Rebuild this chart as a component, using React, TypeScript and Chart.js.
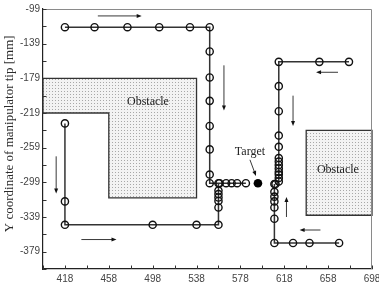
import { useEffect, useRef } from 'react';
import { Chart, registerables } from 'chart.js';
Chart.register(...registerables);

// ---- data ----
const xTickValues = [398, 418, 438, 458, 478, 498, 518, 538, 558, 578, 598, 618, 638, 658, 678, 698];
const xLabelValues = [418, 458, 498, 538, 578, 618, 658, 698];
const yTickValues = [-399, -379, -359, -339, -319, -299, -279, -259, -239, -219, -199, -179, -159, -139, -119, -99];
const yLabelValues = [-379, -339, -299, -259, -219, -179, -139, -99];

const pathAX = [418, 418, 418, 498, 538, 558, 558, 558, 558, 558, 558, 558];
const pathAY = [-231, -321, -348, -348, -348, -348, -328, -320.5, -316.5, -312.5, -308.5, -300];

const pathBX = [418, 445, 475, 504, 532, 550, 550, 550, 550, 550, 550, 550, 550, 559, 565, 570, 575, 583];
const pathBY = [-120, -120, -120, -120, -120, -120, -148, -178, -205, -234, -261, -290, -300, -300, -300, -300, -300, -300];

const pathCX = [677, 650, 613, 613, 613, 613, 613, 613, 613, 613, 613, 613, 613, 613, 613, 610];
const pathCY = [-160, -160, -160, -188, -217, -245, -258, -271, -275, -279, -283, -287, -290, -294, -298, -301];

const pathDX = [668, 641, 626, 609, 609, 609, 609, 609, 609, 609];
const pathDY = [-369, -369, -369, -369, -341, -328, -321, -315.5, -310, -301];

const targetX = [594];
const targetY = [-300];

const obstacle1X = [398, 538, 538, 458, 458, 398];
const obstacle1Y = [-179, -179, -317, -317, -219, -219];
const obstacle2X = [638, 698, 698, 638];
const obstacle2Y = [-239, -239, -337, -337];

// direction arrows: [x1, y1, x2, y2]
const directionArrows = [
  [448, -107, 488, -107],
  [563, -164, 563, -216],
  [667, -172, 647, -172],
  [626, -199, 626, -234],
  [410, -269, 410, -312],
  [433, -365, 465, -365],
  [620, -339, 620, -316],
  [651, -354, 632, -354],
  [586.7, -273, 592.2, -291.6],
];

const textLabels = [
  { text: 'Obstacle', x: 493.7, y: -206.3 },
  { text: 'Obstacle', x: 666.9, y: -284.7 },
  { text: 'Target', x: 586.7, y: -264.3 },
];

const yTitle = 'Y coordinate of manipulator tip [mm]';
const yTitleCenterValue = -243;

const toPoints = (xs: number[], ys: number[]) => xs.map((x, i) => ({ x, y: ys[i] }));

export default function App() {
  const ref = useRef<HTMLCanvasElement | null>(null);
  useEffect(() => {
    document.body.style.margin = '0';
    const canvas = ref.current!;
    const pc = document.createElement('canvas');
    pc.width = 3;
    pc.height = 3;
    const pctx = pc.getContext('2d')!;
    pctx.fillStyle = '#f3f3f3';
    pctx.fillRect(0, 0, 3, 3);
    pctx.fillStyle = '#a8a8a8';
    pctx.fillRect(1, 1, 1, 1);

    const overlay = {
      id: 'overlay',
      beforeDatasetsDraw(chart: any) {
        const { ctx, scales } = chart;
        const xs = scales.x, ys = scales.y;
        const pattern = ctx.createPattern(pc, 'repeat');
        [[obstacle1X, obstacle1Y], [obstacle2X, obstacle2Y]].forEach(([ox, oy]) => {
          ctx.save();
          ctx.beginPath();
          ox.forEach((v: number, i: number) => {
            const px = xs.getPixelForValue(v), py = ys.getPixelForValue(oy[i]);
            if (i === 0) ctx.moveTo(px, py); else ctx.lineTo(px, py);
          });
          ctx.closePath();
          ctx.fillStyle = pattern;
          ctx.fill();
          ctx.strokeStyle = '#333';
          ctx.lineWidth = 1.3;
          ctx.stroke();
          ctx.restore();
        });
      },
      afterDatasetsDraw(chart: any) {
        const { ctx, scales, chartArea } = chart;
        const xs = scales.x, ys = scales.y;
        ctx.save();
        // arrows
        directionArrows.forEach(([x1, y1, x2, y2]) => {
          const ax = xs.getPixelForValue(x1), ay = ys.getPixelForValue(y1);
          const bx = xs.getPixelForValue(x2), by = ys.getPixelForValue(y2);
          const ang = Math.atan2(by - ay, bx - ax);
          ctx.strokeStyle = '#222';
          ctx.lineWidth = 0.9;
          ctx.beginPath();
          ctx.moveTo(ax, ay);
          ctx.lineTo(bx - 3 * Math.cos(ang), by - 3 * Math.sin(ang));
          ctx.stroke();
          ctx.fillStyle = '#111';
          ctx.beginPath();
          ctx.moveTo(bx, by);
          ctx.lineTo(bx - 5 * Math.cos(ang) + 2 * Math.sin(ang), by - 5 * Math.sin(ang) - 2 * Math.cos(ang));
          ctx.lineTo(bx - 5 * Math.cos(ang) - 2 * Math.sin(ang), by - 5 * Math.sin(ang) + 2 * Math.cos(ang));
          ctx.closePath();
          ctx.fill();
        });
        // texts
        ctx.fillStyle = '#222';
        ctx.font = '12px "Liberation Serif", serif';
        ctx.textAlign = 'center';
        ctx.textBaseline = 'middle';
        textLabels.forEach((t) => {
          ctx.fillText(t.text, xs.getPixelForValue(t.x), ys.getPixelForValue(t.y));
        });
        // y axis title
        ctx.save();
        ctx.translate(10, ys.getPixelForValue(yTitleCenterValue));
        ctx.rotate(-Math.PI / 2);
        ctx.fillStyle = '#2a2a2a';
        ctx.font = '13px "Liberation Serif", serif';
        ctx.fillText(yTitle, 0, 0);
        ctx.restore();
        // top & right frame
        ctx.strokeStyle = '#8a8a8a';
        ctx.lineWidth = 1;
        ctx.beginPath();
        ctx.moveTo(chartArea.left, chartArea.top + 0.5);
        ctx.lineTo(chartArea.right - 0.5, chartArea.top + 0.5);
        ctx.lineTo(chartArea.right - 0.5, chartArea.bottom);
        ctx.stroke();
        // inward ticks
        ctx.strokeStyle = '#333';
        ctx.lineWidth = 1;
        ctx.beginPath();
        xTickValues.forEach((v) => {
          const px = Math.round(xs.getPixelForValue(v)) + 0.5;
          ctx.moveTo(px, chartArea.bottom);
          ctx.lineTo(px, chartArea.bottom - 3.5);
        });
        yTickValues.forEach((v) => {
          const py = Math.round(ys.getPixelForValue(v)) + 0.5;
          ctx.moveTo(chartArea.left, py);
          ctx.lineTo(chartArea.left + 3.5, py);
        });
        ctx.stroke();
        ctx.restore();
      },
    };

    const lineDs = (xs: number[], ys: number[]) => ({
      data: toPoints(xs, ys),
      showLine: true,
      borderColor: '#333',
      borderWidth: 1.5,
      pointRadius: 3.6,
      pointHoverRadius: 3.6,
      pointBorderWidth: 1.4,
      pointBorderColor: '#111',
      pointBackgroundColor: 'rgba(255,255,255,0)',
    });

    const chart = new Chart(canvas, {
      type: 'scatter',
      data: {
        datasets: [
          lineDs(pathAX, pathAY),
          lineDs(pathBX, pathBY),
          lineDs(pathCX, pathCY),
          lineDs(pathDX, pathDY),
          {
            data: toPoints(targetX, targetY),
            showLine: false,
            pointRadius: 4.3,
            pointHoverRadius: 4.3,
            pointBorderWidth: 0,
            pointBackgroundColor: '#000',
            pointBorderColor: '#000',
          },
        ],
      },
      options: {
        responsive: false,
        animation: false,
        events: [],
        layout: { padding: { left: 0, top: 9, right: 7, bottom: 0 } },
        plugins: { legend: { display: false }, tooltip: { enabled: false } },
        scales: {
          x: {
            type: 'linear',
            min: 398,
            max: 698,
            afterBuildTicks: (s: any) => { s.ticks = xTickValues.map((v) => ({ value: v })); },
            afterFit: (s: any) => { s.height = 22; s.paddingLeft = 0; s.paddingRight = 0; },
            grid: { display: false, drawTicks: false },
            border: { display: true, color: '#222', width: 1.2 },
            ticks: {
              autoSkip: false,
              maxRotation: 0,
              padding: 4,
              color: '#444',
              font: { family: '"Liberation Sans", Arial, sans-serif', size: 10 },
              callback: (v: any) => (xLabelValues.includes(Number(v)) ? String(v) : ''),
            },
          },
          y: {
            type: 'linear',
            min: -399,
            max: -99,
            afterBuildTicks: (s: any) => { s.ticks = yTickValues.map((v) => ({ value: v })); },
            afterFit: (s: any) => { s.width = 43; s.paddingTop = 0; s.paddingBottom = 0; },
            grid: { display: false, drawTicks: false },
            border: { display: true, color: '#222', width: 1.2 },
            ticks: {
              autoSkip: false,
              padding: 3,
              color: '#444',
              font: { family: '"Liberation Sans", Arial, sans-serif', size: 10 },
              callback: (v: any) => (yLabelValues.includes(Number(v)) ? String(v) : ''),
            },
          },
        },
      },
      plugins: [overlay],
    } as any);
    return () => chart.destroy();
  }, []);
  return <canvas ref={ref} width={379} height={291} style={{ display: 'block' }} />;
}
